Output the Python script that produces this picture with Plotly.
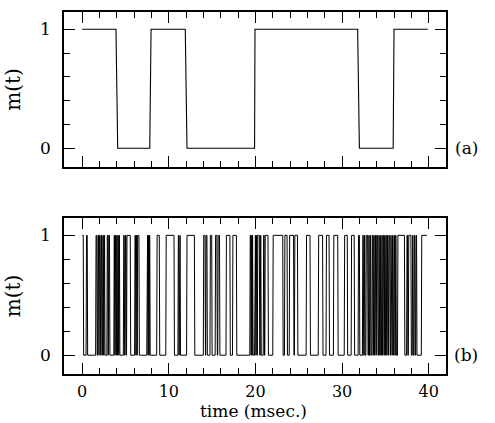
import plotly.graph_objects as go

# ---- data ----
# (a) single slow signal: corner points (time in msec, m value)
t_a = [0.0, 3.9, 4.1, 7.8, 7.95, 11.9, 12.1, 19.9, 19.95, 31.8, 32.0, 35.9, 36.0, 39.9]
m_a = [1, 1, 0, 0, 1, 1, 0, 0, 1, 1, 0, 0, 1, 1]

# (b) fast signal: intervals (msec) during which m(t) = 1
on_start_b = [0.00, 0.45, 1.55, 1.78, 1.95, 2.18, 2.36, 2.50, 2.85, 3.02, 3.65, 3.80, 3.95,
              4.10, 4.22, 4.75, 4.95, 5.12, 6.05, 6.22, 6.35, 7.45, 7.62, 7.72, 8.60,
              9.65, 11.05, 11.20, 12.05, 13.98, 14.26, 14.75, 15.35, 15.65, 16.60, 17.35,
              19.35, 19.52, 19.62, 19.90, 20.08, 20.22, 20.55, 20.90, 21.08, 22.00, 23.35,
              23.90, 24.50, 25.85, 27.25, 28.15, 29.00, 30.25, 31.05, 31.85,
              32.35, 32.55, 32.75, 33.05, 33.22, 33.45, 33.62, 33.80, 33.95, 34.22, 34.35,
              34.55, 34.70, 34.88, 35.02, 35.20, 35.35, 35.60, 35.78, 35.95, 36.15,
              36.40, 37.45, 37.65, 38.10, 38.30, 38.50, 39.15]
on_end_b = [0.12, 0.58, 1.68, 1.88, 2.08, 2.28, 2.44, 2.58, 2.95, 3.15, 3.72, 3.88, 4.02,
            4.16, 4.30, 4.85, 5.05, 5.55, 6.15, 6.30, 6.55, 7.55, 7.68, 7.80, 8.90,
            10.60, 11.14, 11.30, 12.95, 14.18, 14.40, 14.95, 15.55, 15.85, 17.05, 17.80,
            19.45, 19.57, 19.68, 20.00, 20.15, 20.45, 20.62, 21.00, 21.45, 23.15, 23.65,
            24.40, 24.85, 26.30, 27.75, 28.50, 29.50, 30.60, 31.40, 32.00,
            32.45, 32.62, 32.95, 33.12, 33.30, 33.55, 33.70, 33.86, 34.10, 34.28, 34.42,
            34.62, 34.80, 34.93, 35.10, 35.26, 35.50, 35.66, 35.85, 36.05, 36.22,
            37.20, 37.55, 37.95, 38.18, 38.40, 38.60, 39.80]

x_tick_vals = [0, 10, 20, 30, 40]
y_tick_vals = [0, 1]
y_tick_text = ["0", "1"]
x_title = "time (msec.)"
y_title = "m(t)"
panel_labels = ["(a)", "(b)"]

# ---- build step trace for (b) from the intervals ----
edge = 0.05
xb, yb = [], []
n = len(on_start_b)
for i, (s, e) in enumerate(zip(on_start_b, on_end_b)):
    if i == 0 and s == 0:
        xb += [s]
        yb += [1]
    else:
        xb += [s, s + edge]
        yb += [0, 1]
    xb += [e]
    yb += [1]
    if i < n - 1:
        xb += [e + edge]
        yb += [0]

FONT = "DejaVu Serif"
fig = go.Figure()
fig.add_trace(go.Scatter(x=t_a, y=m_a, mode="lines", line=dict(color="black", width=1.1),
                         xaxis="x", yaxis="y", showlegend=False, hoverinfo="skip"))
fig.add_trace(go.Scatter(x=xb, y=yb, mode="lines", line=dict(color="black", width=1.0),
                         xaxis="x2", yaxis="y2", showlegend=False, hoverinfo="skip"))

xcommon = dict(range=[-2.1, 42.0], tickmode="array", tickvals=x_tick_vals,
               ticks="inside", ticklen=11, tickwidth=1.2, tickcolor="black",
               minor=dict(dtick=2, tick0=0, ticks="inside", ticklen=6, tickwidth=1, tickcolor="black"),
               showline=True, linecolor="black", linewidth=1.6, mirror="allticks",
               showgrid=False, zeroline=False, domain=[0, 1], ticklabelstandoff=2,
               automargin=False,
               tickfont=dict(family=FONT, size=16, color="black"))
ycommon = dict(range=[-0.157, 1.145], tickmode="array", tickvals=y_tick_vals, ticktext=y_tick_text,
               ticks="inside", ticklen=11, tickwidth=1.2, tickcolor="black",
               minor=dict(dtick=0.2, tick0=0, ticks="inside", ticklen=6, tickwidth=1, tickcolor="black"),
               showline=True, linecolor="black", linewidth=1.6, mirror="allticks",
               showgrid=False, zeroline=False, ticklabelstandoff=8, automargin=False,
               tickfont=dict(family=FONT, size=17, color="black"),
               title=dict(text=y_title, font=dict(family=FONT, size=20, color="black"), standoff=14))

fig.update_layout(
    width=495, height=423,
    margin=dict(l=64, r=49, t=12, b=49),
    paper_bgcolor="white", plot_bgcolor="white",
    xaxis=dict(xcommon, anchor="y", showticklabels=False),
    yaxis=dict(ycommon, anchor="x", domain=[0.572, 1.0]),
    xaxis2=dict(xcommon, anchor="y2"),
    yaxis2=dict(ycommon, anchor="x2", domain=[0.0, 0.431]),
)
fig.add_annotation(text=x_title, xref="paper", yref="paper", x=0.497, y=0, yshift=-37,
                   yanchor="middle", showarrow=False, borderpad=0,
                   font=dict(family=FONT, size=17, color="black"))
fig.add_annotation(text=panel_labels[0], xref="paper", yref="y", x=1.088, y=0,
                   showarrow=False, font=dict(family=FONT, size=17, color="black"))
fig.add_annotation(text=panel_labels[1], xref="paper", yref="y2", x=1.088, y=0,
                   showarrow=False, font=dict(family=FONT, size=17, color="black"))

fig.write_html("out.html")
